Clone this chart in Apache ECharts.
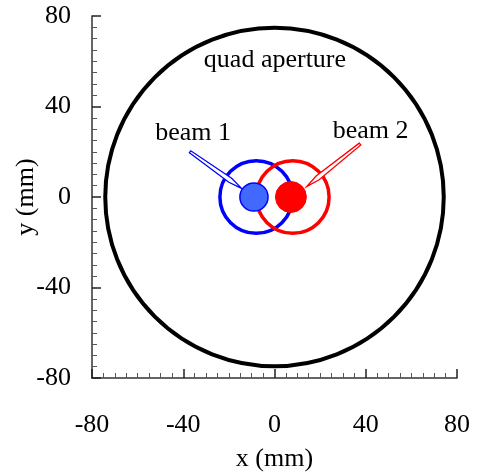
<!DOCTYPE html>
<html>
<head>
<meta charset="utf-8">
<script src="https://cdn.jsdelivr.net/npm/echarts@6/dist/echarts.min.js"></script>
<style>
  html, body { margin: 0; padding: 0; background: #fff; }
  #chart { width: 478px; height: 473px; }
</style>
</head>
<body>
<div id="chart"></div>
<script>
// circles: [x centre, y centre, radius], all in mm
const apertureCircle = [[0, 0, 74.5]];
const beam1Ring = [[-8, 0, 16]];
const beam2Ring = [[8, 0, 16]];
const beam1Spot = [[-9, 0, 6.2]];
const beam2Spot = [[7.2, 0, 6.8]];
// arrows: [tail x, tail y, head x, head y]
const beam1Arrow = [[-37, 20, -14.4, 3.8]];
const beam2Arrow = [[37.5, 23.4, 14.1, 4.6]];
// annotation texts and where they sit
const noteTexts = ["quad aperture", "beam 1", "beam 2"];
const notePositions = [[0.2, 60.5], [-35.7, 28.3], [42.1, 28.9]];

const FONT = '"Liberation Serif", "Times New Roman", serif';

function circleItem(stroke, fill, lineWidth) {
    return function (params, api) {
        const c = api.coord([api.value(0), api.value(1)]);
        const s = api.size([api.value(2), api.value(2)]);
        return {
            type: "circle",
            shape: { cx: c[0], cy: c[1], r: (s[0] + s[1]) / 2 },
            style: { stroke: stroke, fill: fill, lineWidth: lineWidth }
        };
    };
}

function arrowItem(color) {
    return function (params, api) {
        const t = api.coord([api.value(0), api.value(1)]);
        const h = api.coord([api.value(2), api.value(3)]);
        const dx = h[0] - t[0], dy = h[1] - t[1];
        const len = Math.hypot(dx, dy);
        const ux = dx / len, uy = dy / len;
        const nx = -uy, ny = ux;
        const headLen = 14, wTail = 1.2, wShoulder = 2.4;
        const sx = h[0] - ux * headLen, sy = h[1] - uy * headLen;
        return {
            type: "polygon",
            shape: {
                points: [
                    [t[0] + nx * wTail, t[1] + ny * wTail],
                    [sx + nx * wShoulder, sy + ny * wShoulder],
                    [h[0], h[1]],
                    [sx - nx * wShoulder, sy - ny * wShoulder],
                    [t[0] - nx * wTail, t[1] - ny * wTail]
                ]
            },
            style: { stroke: color, fill: "#fff", lineWidth: 1.3 }
        };
    };
}

function noteItem(params, api) {
    const p = api.coord([api.value(0), api.value(1)]);
    return {
        type: "text",
        x: p[0],
        y: p[1],
        style: {
            text: noteTexts[params.dataIndex],
            fontSize: 26,
            fontFamily: FONT,
            fill: "#000",
            align: "center",
            verticalAlign: "middle"
        }
    };
}

function axisCommon(name, labelMargin, nameGap) {
    return {
        type: "value",
        min: -80,
        max: 80,
        interval: 40,
        name: name,
        nameLocation: "middle",
        nameGap: nameGap,
        nameMoveOverlap: false,
        nameTextStyle: { fontSize: 26, fontFamily: FONT, color: "#000" },
        axisLine: { show: true, onZero: false, lineStyle: { color: "#333", width: 1.5 } },
        axisTick: { show: true, inside: true, length: 9, lineStyle: { color: "#222", width: 1.5 } },
        minorTick: { show: true, splitNumber: 8, length: 5, lineStyle: { color: "#555", width: 1 } },
        splitLine: { show: false },
        axisLabel: { margin: labelMargin, fontSize: 26, fontFamily: FONT, color: "#000" }
    };
}

const chart = echarts.init(document.getElementById("chart"));
chart.setOption({
    animation: false,
    grid: { left: 92, right: 21, top: 16, bottom: 95, containLabel: false, outerBoundsMode: "none" },
    xAxis: axisCommon("x (mm)", 34, 68),
    yAxis: axisCommon("y (mm)", 21, 53),
    series: [
        { type: "custom", renderItem: circleItem("#000", "none", 4), data: apertureCircle, encode: { x: 0, y: 1 } },
        { type: "custom", renderItem: circleItem("#0000ff", "none", 3.5), data: beam1Ring, encode: { x: 0, y: 1 } },
        { type: "custom", renderItem: circleItem("#ff0000", "none", 3.5), data: beam2Ring, encode: { x: 0, y: 1 } },
        { type: "custom", renderItem: arrowItem("#0000ff"), data: beam1Arrow, encode: { x: 0, y: 1 } },
        { type: "custom", renderItem: arrowItem("#ff0000"), data: beam2Arrow, encode: { x: 0, y: 1 } },
        { type: "custom", renderItem: circleItem("#0000ff", "#4169ff", 1.5), data: beam1Spot, encode: { x: 0, y: 1 } },
        { type: "custom", renderItem: circleItem("#ff0000", "#ff0000", 1), data: beam2Spot, encode: { x: 0, y: 1 } },
        { type: "custom", renderItem: noteItem, data: notePositions, encode: { x: 0, y: 1 } }
    ]
});
</script>
</body>
</html>
